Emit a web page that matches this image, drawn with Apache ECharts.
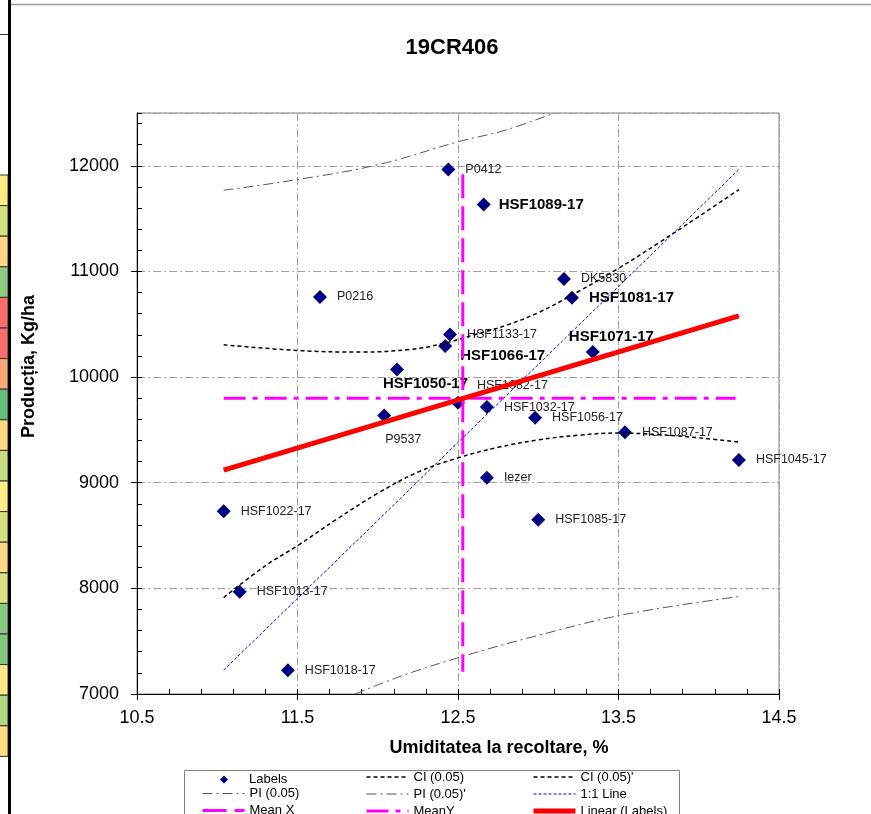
<!DOCTYPE html>
<html>
<head>
<meta charset="utf-8">
<script src="https://cdn.jsdelivr.net/npm/echarts@6/dist/echarts.min.js"></script>
<style>
  html, body { margin: 0; padding: 0; background: #fff; }
  #chart { width: 871px; height: 814px; }
</style>
</head>
<body>
<div id="chart"></div>
<script>
// --- data ---
const names = ['P0412', 'HSF1089-17', 'DK5830', 'HSF1081-17', 'P0216', 'HSF1133-17', 'HSF1066-17',
    'HSF1071-17', 'HSF1050-17', 'P9537', 'HSF1082-17', 'HSF1032-17', 'HSF1056-17', 'HSF1087-17',
    'HSF1045-17', 'Iezer', 'HSF1085-17', 'HSF1022-17', 'HSF1013-17', 'HSF1018-17'];
const moisture = [12.44, 12.66, 13.16, 13.21, 11.64, 12.45, 12.42, 13.34, 12.12, 12.04, 12.50, 12.68,
    12.98, 13.54, 14.25, 12.68, 13.00, 11.04, 11.14, 11.44];
const yieldKg = [11965, 11633, 10929, 10752, 10758, 10404, 10294, 10237, 10072, 9636, 9756, 9716,
    9614, 9479, 9216, 9048, 8650, 8730, 7968, 7226];
const boldNames = ['HSF1089-17', 'HSF1081-17', 'HSF1071-17', 'HSF1066-17', 'HSF1050-17'];

const ciUpX = [11.04, 11.5, 11.9, 12.2, 12.4, 12.6, 12.8, 13.0, 13.25, 13.5, 13.75, 14.0, 14.25];
const ciUpY = [10306, 10252, 10237, 10262, 10315, 10400, 10490, 10610, 10810, 11030, 11270, 11520, 11775];
const ciLoX = [11.04, 11.3, 11.5, 11.75, 12.0, 12.25, 12.5, 12.75, 13.0, 13.25, 13.5, 13.75, 14.0, 14.25];
const ciLoY = [7913, 8214, 8404, 8660, 8900, 9100, 9235, 9335, 9405, 9450, 9470, 9455, 9425, 9384];
const piUpX = [11.04, 11.5, 12.0, 12.5, 12.8, 13.1];
const piUpY = [11769, 11870, 12010, 12227, 12340, 12500];
const piLoX = [11.86, 12.15, 12.54, 12.99, 13.55, 14.26];
const piLoY = [7000, 7172, 7361, 7551, 7756, 7924];
const oneToOneX = [11.04, 14.25];
const oneToOneY = [7226, 11965];
const meanXX = [12.53, 12.53];
const meanXY = [11920, 7210];
const meanYX = [11.04, 14.23];
const meanYY = [9800, 9800];
const linearX = [11.04, 14.25];
const linearY = [9120, 10580];

// spreadsheet cells visible at the left edge
const cellColors = ['#FFEB84', '#D3E081', '#FED580', '#8ECB7E', '#F96C6C', '#F96C6C', '#FBA677',
    '#63BE7B', '#FED781', '#C9DC80', '#FFEB84', '#D3E082', '#FED981', '#DCE182', '#86C97E',
    '#80C77D', '#FFE884', '#B5D680', '#FEDB81'];

// label tweaks where Excel moved the text off the default spot
const labelShift = {
    'HSF1066-17': [-2, 10],
    'HSF1071-17': [-41, -15],
    'HSF1050-17': [-31, 14],
    'P9537': [-16, 24],
    'HSF1082-17': [2, -17],
    'HSF1089-17': [-2, 0]
};

const FONT = '"Liberation Sans", Arial, sans-serif';

const chart = echarts.init(document.getElementById('chart'));

function pairs(xs, ys) {
    return xs.map((x, i) => [x, ys[i]]);
}

function lineSeries(name, xs, ys, style, smooth) {
    return {
        name: name, type: 'line', data: pairs(xs, ys),
        symbol: 'none', smooth: smooth || false, z: 3, silent: true,
        clip: true, lineStyle: style, itemStyle: { color: style.color }
    };
}

const pointData = names.map((n, i) => {
    const bold = boldNames.indexOf(n) >= 0;
    return {
        name: n,
        value: [moisture[i], yieldKg[i]],
        label: {
            fontWeight: bold ? 'bold' : 'normal',
            fontSize: bold ? 15 : 12.5,
            color: bold ? '#000' : '#222',
            offset: labelShift[n] || [0, 0]
        }
    };
});

const graphic = [];
cellColors.forEach((c, i) => {
    graphic.push({
        type: 'rect', silent: true,
        shape: { x: -1, y: 175 + i * 30.6, width: 9, height: 30.6 },
        style: { fill: c, stroke: '#333', lineWidth: 1 }
    });
});
graphic.push(
    { type: 'line', silent: true, shape: { x1: 0, y1: 34.5, x2: 9, y2: 34.5 }, style: { stroke: '#333', lineWidth: 1 } },
    { type: 'line', silent: true, shape: { x1: 9.5, y1: 0, x2: 9.5, y2: 814 }, style: { stroke: '#000', lineWidth: 3 } },
    { type: 'line', silent: true, shape: { x1: 11, y1: 4.5, x2: 871, y2: 4.5 }, style: { stroke: '#9a9a9a', lineWidth: 1.5 } },
    { type: 'rect', silent: true, shape: { x: 184.5, y: 770.5, width: 495, height: 60 }, style: { fill: 'none', stroke: '#808080', lineWidth: 1 } }
);

const legendBase = {
    orient: 'vertical', padding: 0, itemGap: 4, itemWidth: 42, itemHeight: 13,
    height: 80, selectedMode: false,
    textStyle: { fontSize: 13, color: '#000', fontFamily: FONT },
    itemStyle: { opacity: 0 },
    lineStyle: { width: 'inherit' }
};

const option = {
    animation: false,
    textStyle: { fontFamily: FONT },
    title: {
        text: '19CR406', left: 452, top: 37, textAlign: 'center', padding: 0,
        textStyle: { fontSize: 22, fontWeight: 'bold', color: '#000', fontFamily: FONT }
    },
    graphic: graphic,
    legend: [
        Object.assign({}, legendBase, {
            left: 220, top: 773, itemWidth: 8, itemHeight: 8,
            itemStyle: { opacity: 1 },
            textStyle: { fontSize: 13, color: '#000', fontFamily: FONT, padding: [0, 0, 0, 16] },
            data: [{ name: 'Labels', icon: 'diamond' }]
        }),
        Object.assign({}, legendBase, { left: 201, top: 787, data: ['PI (0.05)', 'Mean X'] }),
        Object.assign({}, legendBase, { left: 365, top: 770.5, data: ['CI (0.05)', "PI (0.05)'", 'MeanY'] }),
        Object.assign({}, legendBase, { left: 531, top: 770.5, data: ["CI (0.05)'", '1:1 Line', 'Linear (Labels)'] })
    ],
    grid: {
        left: 137, right: 92, top: 113, bottom: 120,
        show: true, borderColor: '#808080', borderWidth: 1, backgroundColor: '#fff'
    },
    xAxis: [{
        type: 'value', min: 10.5, max: 14.5, interval: 1,
        name: 'Umiditatea la recoltare, %', nameLocation: 'middle', nameGap: 45,
        nameTextStyle: { fontSize: 18, fontWeight: 'bold', color: '#000', padding: [0, 0, 0, 82] },
        axisLine: { show: true, lineStyle: { color: '#000', width: 1 } },
        axisTick: { show: true, length: 6, lineStyle: { color: '#000' } },
        axisLabel: { fontSize: 18, color: '#000', margin: 15, formatter: v => v.toFixed(1) },
        splitLine: { show: true, lineStyle: { color: '#a0a0a0', width: 1, type: [8, 3, 2, 3] } }
    }, {
        type: 'value', min: 10.5, max: 14.5, interval: 0.2, position: 'bottom',
        axisLine: { show: false }, axisLabel: { show: false }, splitLine: { show: false },
        axisTick: { show: true, inside: true, length: 5, lineStyle: { color: '#000' } }
    }],
    yAxis: [{
        type: 'value', min: 7000, max: 12500, interval: 1000,
        name: 'Producția, Kg/ha', nameLocation: 'middle', nameGap: 99,
        nameTextStyle: { fontSize: 18, fontWeight: 'bold', color: '#000', padding: [0, 0, 0, 74] },
        axisLine: { show: true, lineStyle: { color: '#000', width: 1 } },
        axisTick: { show: true, length: 6, lineStyle: { color: '#000' } },
        axisLabel: { fontSize: 18, color: '#000', margin: 18, showMaxLabel: false, formatter: v => String(v) },
        splitLine: { show: true, lineStyle: { color: '#a0a0a0', width: 1, type: [8, 3, 2, 3] } }
    }, {
        type: 'value', min: 7000, max: 12500, interval: 200, position: 'left',
        axisLine: { show: false }, axisLabel: { show: false }, splitLine: { show: false },
        axisTick: { show: true, inside: true, length: 5, lineStyle: { color: '#000' } }
    }],
    series: [
        {
            name: 'Labels', type: 'scatter', z: 1, symbol: 'diamond', symbolSize: 14,
            itemStyle: { color: '#000080', opacity: 1 },
            label: { show: true, position: 'right', distance: 10, formatter: '{b}', fontFamily: FONT },
            data: pointData
        },
        lineSeries('CI (0.05)', ciUpX, ciUpY, { color: '#000', width: 1.5, type: [4, 3] }, 0.4),
        lineSeries("CI (0.05)'", ciLoX, ciLoY, { color: '#000', width: 1.5, type: [4, 3] }, 0.4),
        lineSeries('PI (0.05)', piUpX, piUpY, { color: '#555', width: 1, type: [10, 4, 2, 4] }, 0.4),
        lineSeries("PI (0.05)'", piLoX, piLoY, { color: '#555', width: 1, type: [10, 4, 2, 4] }, 0.4),
        lineSeries('1:1 Line', oneToOneX, oneToOneY, { color: '#0000ff', width: 1, type: [3, 2] }),
        lineSeries('Mean X', meanXX, meanXY, { color: '#ff00ff', width: 3, type: [24, 8] }),
        lineSeries('MeanY', meanYX, meanYY, { color: '#ff00ff', width: 3, type: [22, 7, 5, 7] }),
        lineSeries('Linear (Labels)', linearX, linearY, { color: '#ff0000', width: 5 })
    ]
};

chart.setOption(option);
</script>
</body>
</html>
